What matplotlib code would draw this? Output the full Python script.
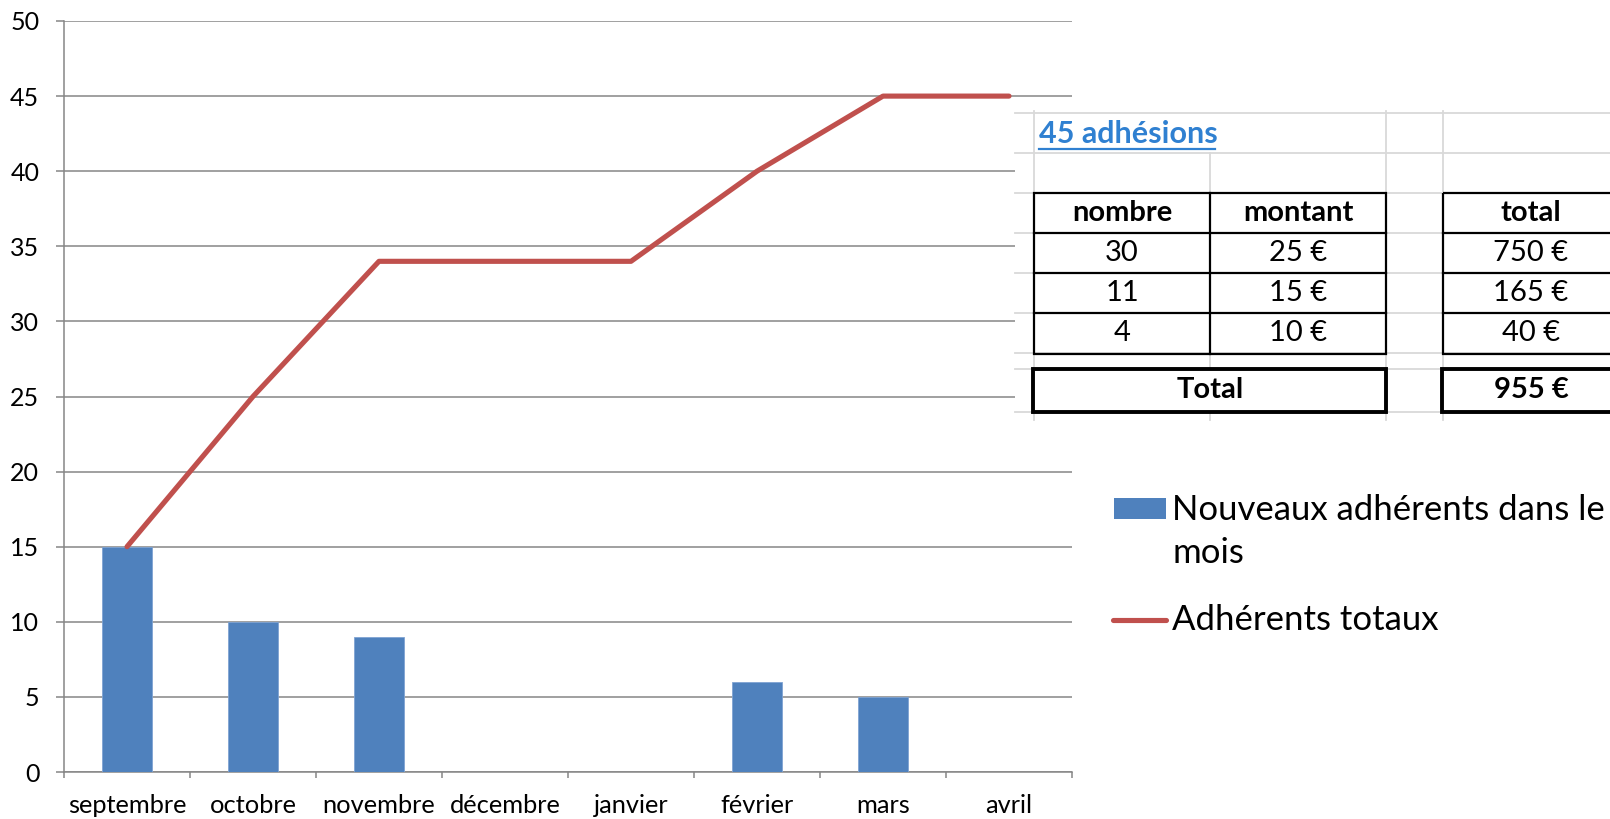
import matplotlib
matplotlib.use('Agg')
import matplotlib.pyplot as plt
from matplotlib.patches import Rectangle
from matplotlib.lines import Line2D
import numpy as np

# ---------------- data ----------------
mois = ['septembre', 'octobre', 'novembre', 'décembre', 'janvier', 'février', 'mars', 'avril']
nouveaux = [15, 10, 9, 0, 0, 6, 5, 0]
totaux = [15, 25, 34, 34, 34, 40, 45, 45]
y_ticks = [0, 5, 10, 15, 20, 25, 30, 35, 40, 45, 50]

serie_barres = 'Nouveaux adhérents dans le mois'
serie_ligne = 'Adhérents totaux'

titre_table = '45 adhésions'
entetes = ['nombre', 'montant', 'total']
table_nombre = [30, 11, 4]
table_montant = [25, 15, 10]
table_total = [750, 165, 40]
total_general = 955

# ---------------- style ----------------
FONT = 'Lato'
plt.rcParams['font.family'] = [FONT, 'DejaVu Sans']
GRAY = '#868686'
BLUE = '#4F81BD'
RED = '#C0504D'
LIGHT = '#D9D9D9'
LINK = '#2F80D1'

W, H = 1610, 819
fig = plt.figure(figsize=(W / 100, H / 100), dpi=100)

left, right, top, bottom = 64, 1072, 21, 772
ax = fig.add_axes([left / W, 1 - bottom / H, (right - left) / W, (bottom - top) / H])
x = np.arange(len(mois))
ax.bar(x, nouveaux, width=0.39, color=BLUE, edgecolor='#7FA3D3', linewidth=0.6, zorder=3)
ax.plot(x, totaux, color=RED, lw=3.7, zorder=4, solid_joinstyle='round', solid_capstyle='round')
ax.set_xlim(-0.5, len(mois) - 0.5)
ax.set_ylim(0, 50)
ax.set_yticks(y_ticks)
ax.yaxis.grid(True, color=GRAY, lw=1.1, zorder=0)
ax.set_axisbelow(True)
ax.set_xticks(np.arange(-0.5, len(mois), 1))
ax.set_xticklabels([])
ax.set_xticks(x, minor=True)
ax.set_xticklabels(mois, minor=True)
ax.tick_params(axis='x', which='major', length=4.5, width=1.1, color=GRAY, direction='out')
ax.tick_params(axis='x', which='minor', length=0, pad=16, labelsize=18.3)
ax.tick_params(axis='y', length=5.8, width=1.1, color=GRAY, direction='out', pad=12, labelsize=18)
for s in ['top', 'right']:
    ax.spines[s].set_visible(False)
for s in ['left', 'bottom']:
    ax.spines[s].set_color(GRAY)
    ax.spines[s].set_linewidth(1.1)

# ---------------- overlay in pixel coords ----------------
ov = fig.add_axes([0, 0, 1, 1], zorder=10)
ov.set_xlim(0, W)
ov.set_ylim(H, 0)
ov.axis('off')
ov.patch.set_visible(False)

# legend
ov.add_patch(Rectangle((1114, 498), 51.5, 21, color=BLUE, lw=0))
lab1, lab2 = serie_barres.rsplit(' ', 1)
ov.text(1172, 520, lab1, fontsize=25, va='baseline', ha='left')
ov.text(1172, 563, lab2, fontsize=25, va='baseline', ha='left')
ov.add_line(Line2D([1113, 1166], [620, 620], color=RED, lw=3.7, solid_capstyle='round'))
ov.text(1172, 630, serie_ligne, fontsize=25, va='baseline', ha='left')

# embedded spreadsheet table
tx0, tx1, ty0, ty1 = 1015, 1612, 111, 420
ov.add_patch(Rectangle((tx0, ty0), tx1 - tx0, ty1 - ty0, facecolor='white', edgecolor='none', zorder=1))
rows = [113, 153, 193, 233, 273, 313, 353, 369, 412]
for yy in rows:
    ov.add_line(Line2D([tx0, tx1], [yy, yy], color=LIGHT, lw=1.3, zorder=2))
for xx in [1034, 1386, 1443]:
    ov.add_line(Line2D([xx, xx], [ty0, ty1], color=LIGHT, lw=1.3, zorder=2))
ov.add_line(Line2D([1210, 1210], [153, ty1], color=LIGHT, lw=1.3, zorder=2))

# title link
ov.text(1039, 143, titre_table, fontsize=22, fontweight='bold', color=LINK, va='baseline', ha='left', zorder=5)
ov.add_line(Line2D([1039, 1215], [149, 149], color=LINK, lw=1.6, zorder=5))

# main table boxes
bl = 1.6
ov.add_patch(Rectangle((1034, 193), 352, 161, fill=False, edgecolor='black', lw=bl, zorder=4))
ov.add_patch(Rectangle((1443, 193), 200, 161, fill=False, edgecolor='black', lw=bl, zorder=4))
for yy in [233, 273, 313]:
    ov.add_line(Line2D([1034, 1386], [yy, yy], color='black', lw=bl, zorder=4))
    ov.add_line(Line2D([1443, 1643], [yy, yy], color='black', lw=bl, zorder=4))
ov.add_line(Line2D([1210, 1210], [193, 354], color='black', lw=bl, zorder=4))

fs = 21
cx = [1122, 1298, 1531]
ry = [213, 253, 293, 333]
for c, h in zip(cx, entetes):
    ov.text(c, ry[0], h, fontsize=fs, fontweight='bold', ha='center', va='center', zorder=5)
for i in range(len(table_nombre)):
    ov.text(cx[0], ry[i + 1], f'{table_nombre[i]}', fontsize=fs, ha='center', va='center', zorder=5)
    ov.text(cx[1], ry[i + 1], f'{table_montant[i]} €', fontsize=fs, ha='center', va='center', zorder=5)
    ov.text(cx[2], ry[i + 1], f'{table_total[i]} €', fontsize=fs, ha='center', va='center', zorder=5)

# total boxes
ov.add_patch(Rectangle((1033, 369), 353, 43, facecolor='white', edgecolor='black', lw=2.8, zorder=4))
ov.add_patch(Rectangle((1442, 369), 200, 43, facecolor='white', edgecolor='black', lw=2.8, zorder=4))
ov.text(1210, 390, 'Total', fontsize=fs, fontweight='bold', ha='center', va='center', zorder=5)
ov.text(cx[2], 390, f'{total_general} €', fontsize=fs, fontweight='bold', ha='center', va='center', zorder=5)

fig.savefig('out.png', dpi=100)
